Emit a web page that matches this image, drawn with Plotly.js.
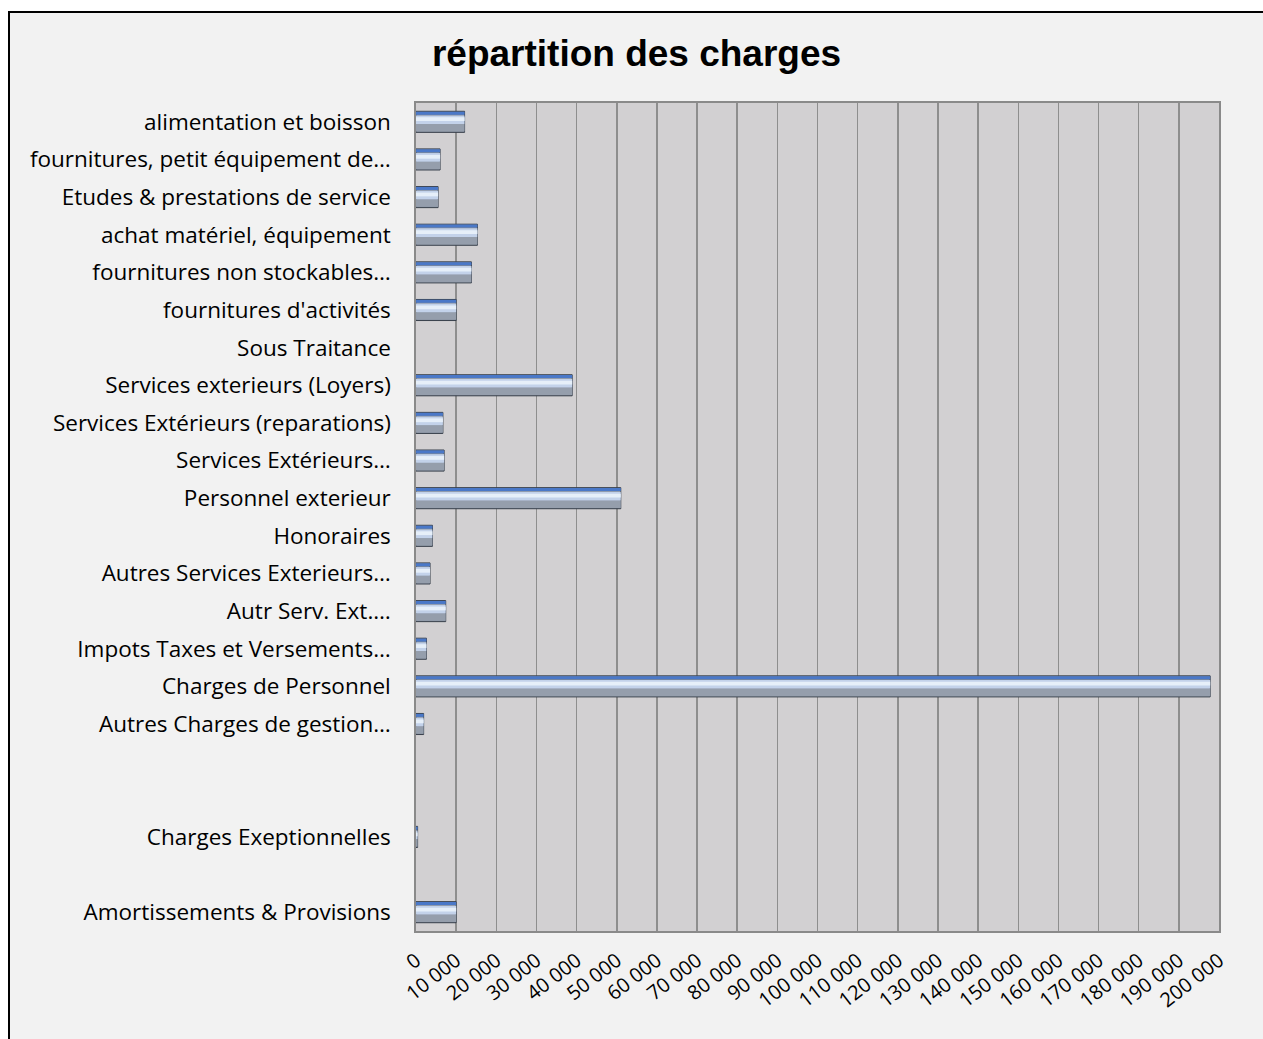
<!DOCTYPE html>
<html>
<head>
<meta charset="utf-8">
<script src="https://cdn.plot.ly/plotly-3.0.1.min.js"></script>
<style>
  html, body { margin: 0; padding: 0; background: #ffffff; overflow: hidden; }
  #frame { position: absolute; left: 8px; top: 11px; width: 1255px; height: 1028px;
           border-left: 2px solid #000; border-top: 2px solid #000; background: #f2f2f2; }
  #chart { width: 1253px; height: 1026px; }
</style>
</head>
<body>
<div id="frame"><div id="chart"></div></div>
<script>
// Categories, top to bottom ("" = empty category row)
var categories = [
  "alimentation et boisson",
  "fournitures, petit équipement de…",
  "Etudes & prestations de service",
  "achat matériel, équipement",
  "fournitures non stockables…",
  "fournitures d'activités",
  "Sous Traitance",
  "Services exterieurs (Loyers)",
  "Services Extérieurs (reparations)",
  "Services Extérieurs…",
  "Personnel exterieur",
  "Honoraires",
  "Autres Services Exterieurs…",
  "Autr Serv. Ext.…",
  "Impots Taxes et Versements…",
  "Charges de Personnel",
  "Autres Charges de gestion…",
  "",
  "",
  "Charges Exeptionnelles",
  "",
  "Amortissements & Provisions"
];
var values = [
  12100, 6000, 5500, 15300, 13800, 10000, 0, 38900, 6700, 7000,
  51000, 4100, 3500, 7400, 2600, 197800, 1900, null, null, 400, null, 10000
];
var xTickValues = [0,10000,20000,30000,40000,50000,60000,70000,80000,90000,100000,
  110000,120000,130000,140000,150000,160000,170000,180000,190000,200000];

var idx = categories.map(function(_, i){ return i; });
var tickText = categories.map(function(c){ return c === "" ? "" : c + "  "; });
var outlineWidths = values.map(function(v){ return v ? 1 : 0; });

function layer(color, offset, width, lineColor, lineWidth) {
  return {
    type: 'bar', orientation: 'h', x: values, y: idx,
    offset: offset, width: width,
    marker: { color: color, line: { color: lineColor, width: lineWidth } },
    hoverinfo: 'skip', showlegend: false
  };
}

var traces = [
  layer('#7f8998', -0.28, 0.56, '#39404c', outlineWidths),
  layer('#959eac', 0.06, 0.2, 'rgba(0,0,0,0)', 0),
  layer('#c3d2ea', -0.17, 0.23, 'rgba(0,0,0,0)', 0),
  layer('#e6eff9', -0.12, 0.1, 'rgba(0,0,0,0)', 0),
  layer('#4a78c8', -0.27, 0.08, 'rgba(0,0,0,0)', 0)
];

var layout = {
  width: 1253, height: 1026,
  paper_bgcolor: '#f2f2f2',
  plot_bgcolor: '#d2d0d2',
  separators: ', ',
  barmode: 'overlay',
  margin: { l: 406, r: 44, t: 90, b: 108, pad: 0 },
  title: {
    text: '<b>répartition des charges</b>',
    font: { family: 'Liberation Sans, Arial, sans-serif', size: 37, color: '#000' },
    x: 0.5, xref: 'container', xanchor: 'center',
    y: 0.961, yref: 'container', yanchor: 'middle'
  },
  xaxis: {
    range: [0, 200000],
    tickvals: xTickValues,
    tickformat: ',d',
    tickangle: -38,
    tickfont: { family: 'Open Sans, Noto Sans, sans-serif', size: 20, color: '#000' },
    showgrid: true, gridcolor: '#8e8e8e', gridwidth: 1.5,
    zeroline: false,
    showline: true, linecolor: '#8a8a8a', linewidth: 2, mirror: true,
    ticks: 'outside', ticklen: 8, tickcolor: 'rgba(0,0,0,0)',
    fixedrange: true
  },
  yaxis: {
    range: [21.5, -0.5],
    tickvals: idx,
    ticktext: tickText,
    tickfont: { family: 'Open Sans, Noto Sans, sans-serif', size: 22.5, color: '#000' },
    showgrid: false, zeroline: false,
    showline: true, linecolor: '#8a8a8a', linewidth: 2, mirror: true,
    ticks: 'outside', ticklen: 7, tickcolor: 'rgba(0,0,0,0)',
    fixedrange: true
  }
};

Plotly.newPlot('chart', traces, layout, { displayModeBar: false, staticPlot: true });
</script>
</body>
</html>
